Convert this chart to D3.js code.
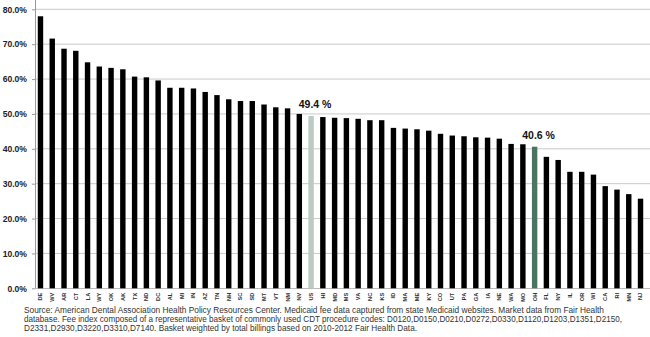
<!DOCTYPE html>
<html><head><meta charset="utf-8">
<script src="https://cdn.jsdelivr.net/npm/d3@7"></script>
<style>body{margin:0;background:#fff}svg{display:block}</style>
</head><body>
<svg id="c" width="650" height="337"></svg>
<script>
const states = ["DE","WV","AR","CT","LA","WY","OK","AK","TX","ND","DC","AL","MI","IN","AZ","TN","NH","SC","SD","MT","VT","NM","NV","US","HI","MD","MS","VA","NC","KS","ID","MA","ME","KY","CO","UT","PA","GA","IA","NE","WA","MO","OH","FL","NY","IL","OR","WI","CA","RI","MN","NJ"];
const values = [78.0,71.6,68.7,68.1,64.8,63.6,63.2,62.8,60.7,60.5,59.6,57.5,57.5,57.3,56.3,55.4,54.2,53.7,53.7,52.7,51.9,51.6,50.0,49.4,49.1,48.9,48.8,48.6,48.2,48.2,46.0,45.8,45.6,45.2,44.3,43.8,43.6,43.3,43.2,42.9,41.4,41.3,40.6,37.7,36.8,33.4,33.4,32.6,29.3,28.3,27.0,25.7];
const yTicks = [0,10,20,30,40,50,60,70,80];
const highlights = {US:{color:"#b9cbc2", label:"49.4 %"}, OH:{color:"#4b7562", label:"40.6 %"}};
const sourceLines = [
 "Source: American Dental Association Health Policy Resources Center.  Medicaid fee data captured from state Medicaid websites.  Market data from Fair Health",
 "database.  Fee index composed of a representative  basket of commonly used CDT procedure codes: D0120,D0150,D0210,D0272,D0330,D1120,D1203,D1351,D2150,",
 "D2331,D2930,D3220,D3310,D7140.  Basket  weighted by total billings based on 2010-2012 Fair Health Data."
];
const sourceWidths = [580, 598, 393];

const svg = d3.select("#c");
const x = d3.scaleBand().domain(states).range([34.6, 646.4]).paddingInner(0.54).paddingOuter(0.27);
const y = d3.scaleLinear().domain([0,80]).range([288.3, 9.3]);
const font = "'Liberation Sans', Arial, sans-serif";

// gridlines
svg.append("g").selectAll("line").data(yTicks.filter(d=>d>0)).join("line")
  .attr("x1",35).attr("x2",650).attr("y1",d=>y(d)).attr("y2",d=>y(d))
  .attr("stroke","#c9c9c9").attr("stroke-width",1);

// y axis
const ya = svg.append("g").attr("transform","translate(35,0)")
  .call(d3.axisLeft(y).tickValues(yTicks).tickFormat(d=>d.toFixed(1)+"%").tickSize(3));
ya.select(".domain").remove();
ya.selectAll(".tick line").attr("stroke","#999");
ya.selectAll("text").attr("font-family",font).attr("font-size",8.6).attr("font-weight","bold").attr("fill","#222").attr("x",-8);
svg.append("line").attr("x1",35.5).attr("x2",35.5).attr("y1",0).attr("y2",288.3).attr("stroke","#999");
svg.append("line").attr("x1",35).attr("x2",650).attr("y1",288.5).attr("y2",288.5).attr("stroke","#bbb");

// bars
svg.append("g").selectAll("rect").data(states).join("rect")
  .attr("x",d=>x(d)).attr("width",x.bandwidth())
  .attr("y",(d,i)=>y(values[i])).attr("height",(d,i)=>y(0)-y(values[i]))
  .attr("fill",d=>highlights[d]?highlights[d].color:"#000");

// annotations
svg.append("g").selectAll("text").data(states.filter(s=>highlights[s])).join("text")
  .attr("x",d=>x(d)+x.bandwidth()/2+4).attr("y",d=>y(values[states.indexOf(d)])-8)
  .attr("text-anchor","middle").attr("font-family",font).attr("font-weight","bold")
  .attr("font-size",10.5).attr("fill","#111").text(d=>highlights[d].label);

// x labels
const xa = svg.append("g").attr("transform","translate(0,288.3)")
  .call(d3.axisBottom(x).tickSize(0));
xa.select(".domain").remove();
xa.selectAll("text").attr("font-family",font).attr("font-size",5.6).attr("font-weight","bold").attr("fill","#333")
  .attr("transform","rotate(-90)").attr("text-anchor","end").attr("dy","0.35em").attr("x",-4.5).attr("y",0);

// source
svg.append("g").selectAll("text").data(sourceLines).join("text")
  .attr("x",24).attr("y",(d,i)=>312.5+i*9.4).attr("font-family",font).attr("font-size",8.4).attr("fill","#333")
  .attr("textLength",(d,i)=>sourceWidths[i]).attr("lengthAdjust","spacingAndGlyphs")
  .text(d=>d);
</script>
</body></html>
